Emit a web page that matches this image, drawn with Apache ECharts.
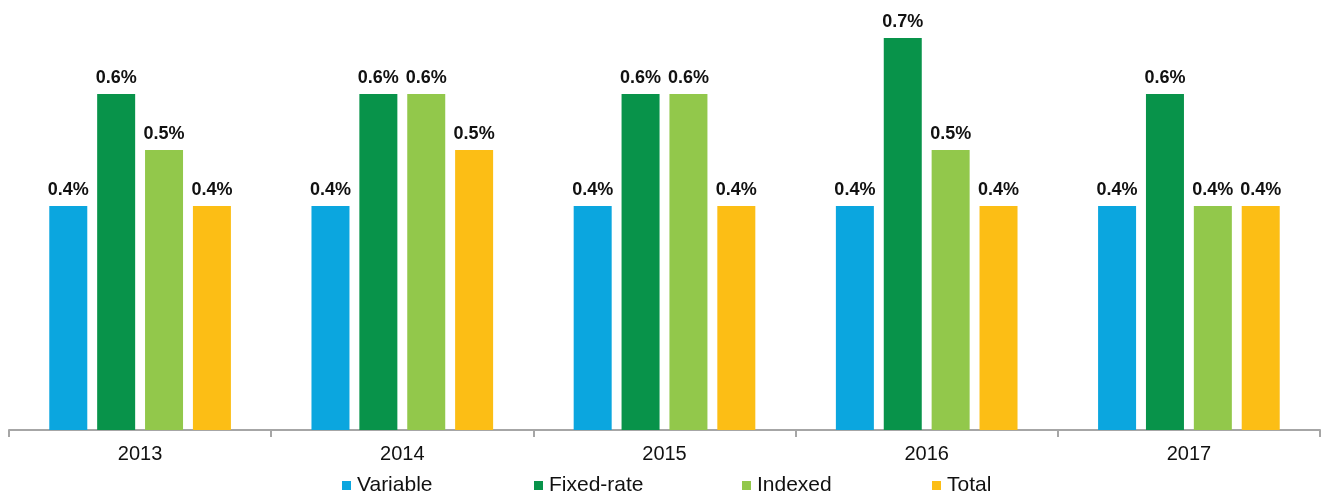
<!DOCTYPE html>
<html>
<head>
<meta charset="utf-8">
<script src="https://cdn.jsdelivr.net/npm/echarts@6/dist/echarts.min.js"></script>
<style>
  html, body { margin: 0; padding: 0; background: #fff; }
  #chart { width: 1323px; height: 498px; }
</style>
</head>
<body>
<div id="chart"></div>
<script>
// Years on the category axis
const years = ['2013', '2014', '2015', '2016', '2017'];

// Rates per segment, in percent
const variable  = [0.4, 0.4, 0.4, 0.4, 0.4];
const fixedRate = [0.6, 0.6, 0.6, 0.7, 0.6];
const indexed   = [0.5, 0.6, 0.6, 0.5, 0.4];
const total     = [0.4, 0.5, 0.4, 0.4, 0.4];

const seriesNames = ['Variable', 'Fixed-rate', 'Indexed', 'Total'];
const seriesData = [variable, fixedRate, indexed, total];
const colors = ['#0BA6DF', '#08934A', '#92C84B', '#FCBE15'];

const FONT = 'Arial, "Liberation Sans", sans-serif';

// One legend block per series so each entry sits at its own spot
const legendLefts = [342, 534, 742, 932];

const chart = echarts.init(document.getElementById('chart'));

chart.setOption({
  animation: false,
  color: colors,
  grid: { left: 9, right: 3, top: 10, bottom: 68 },
  xAxis: {
    type: 'category',
    data: years,
    axisLine: { lineStyle: { color: '#A6A6A6', width: 2 } },
    axisTick: { show: true, length: 7, lineStyle: { color: '#A6A6A6', width: 2 } },
    axisLabel: { color: '#111', fontFamily: FONT, fontSize: 20, margin: 14 }
  },
  yAxis: {
    type: 'value',
    min: 0,
    max: 0.75,
    show: false,
    splitLine: { show: false }
  },
  legend: seriesNames.map((name, i) => ({
    data: [name],
    left: legendLefts[i],
    top: 475,
    itemWidth: 9,
    itemHeight: 9,
    itemGap: 0,
    padding: 0,
    icon: 'rect',
    selectedMode: false,
    textStyle: { color: '#111', fontFamily: FONT, fontSize: 21, padding: [0, 0, 0, 1] }
  })),
  series: seriesNames.map((name, i) => ({
    name: name,
    type: 'bar',
    data: seriesData[i],
    barWidth: 38,
    barGap: '26%',
    itemStyle: { color: colors[i] },
    label: {
      show: true,
      position: 'top',
      distance: 7,
      formatter: p => p.value.toFixed(1) + '%',
      color: '#111',
      fontFamily: FONT,
      fontSize: 18,
      fontWeight: 'bold'
    }
  }))
});
</script>
</body>
</html>
